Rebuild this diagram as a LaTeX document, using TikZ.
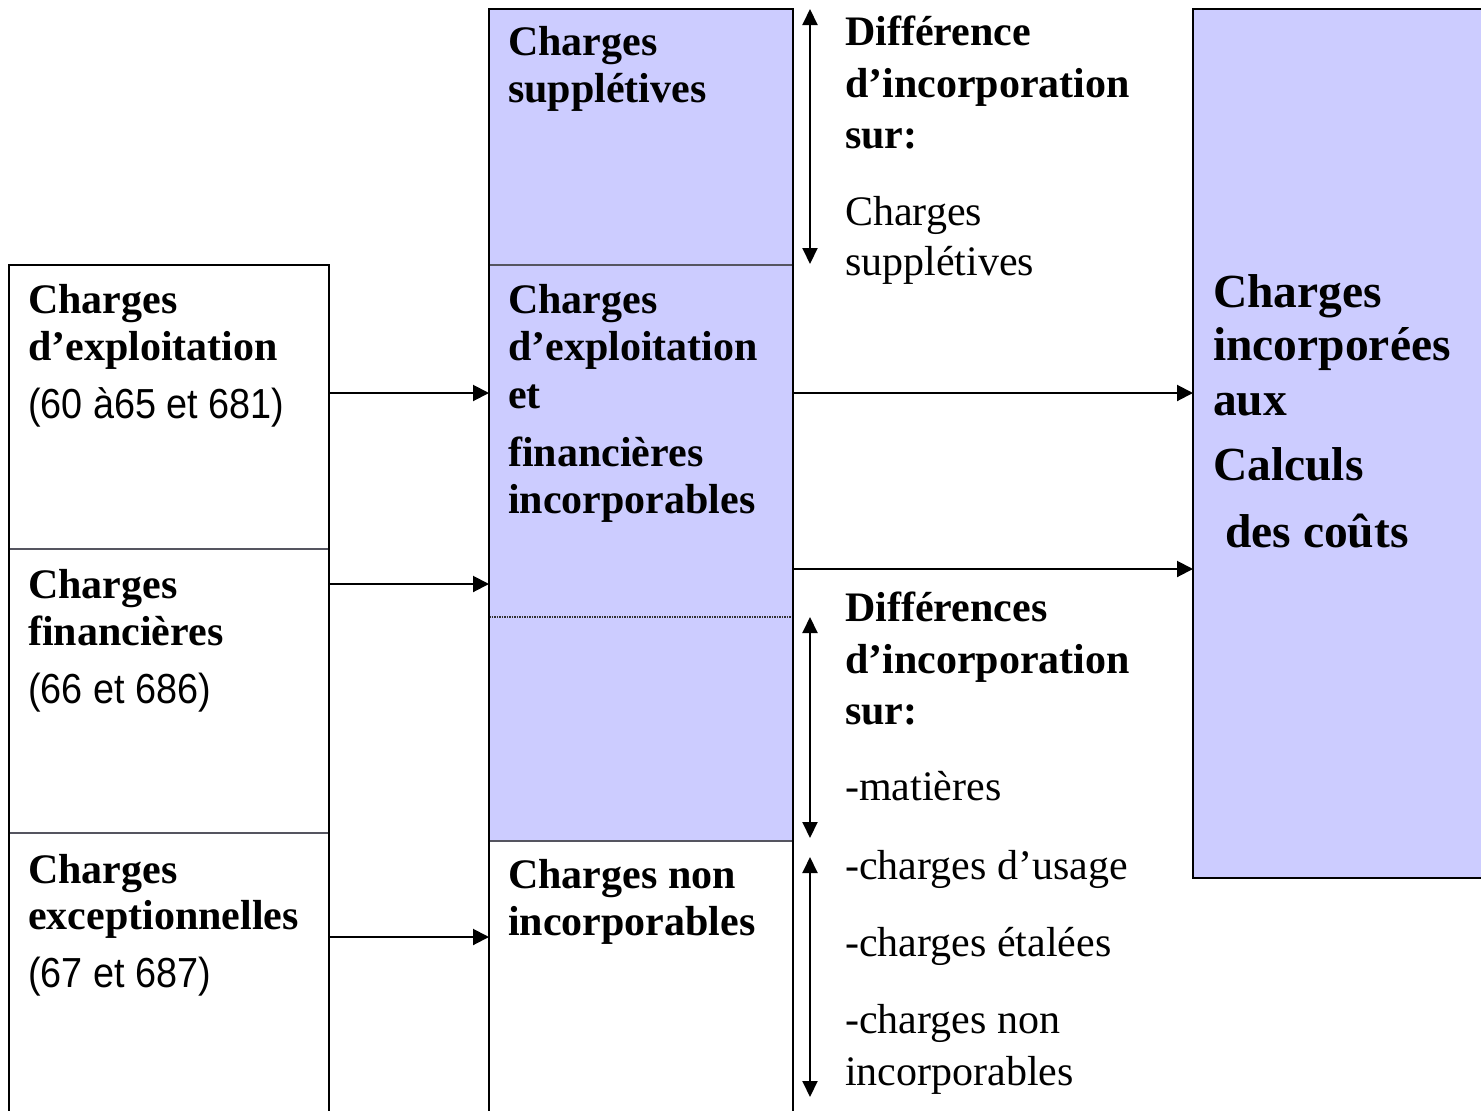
\documentclass[tikz,border=0pt]{standalone}
\usepackage{fontspec}
\setmainfont{Liberation Serif}
\newfontfamily\numfont[FakeStretch=0.9]{Liberation Sans}
\usetikzlibrary{arrows.meta}
\definecolor{lav}{HTML}{CCCCFF}
\definecolor{divgray}{HTML}{555560}
\tikzset{
 txt/.style={anchor=base west, inner sep=0pt, font=\fontsize{42}{50}\selectfont},
 btxt/.style={anchor=base west, inner sep=0pt, font=\fontsize{42}{50}\selectfont\bfseries},
 ntxt/.style={anchor=base west, inner sep=0pt, font=\fontsize{42}{50}\selectfont\numfont},
 bigtxt/.style={anchor=base west, inner sep=0pt, font=\fontsize{47.5}{56}\selectfont\bfseries},
 cell/.style={anchor=north west, inner sep=0pt, outer sep=0pt},
 outer/.style={draw=black, line width=2pt},
 divider/.style={draw=divgray, line width=1.3pt},
 dotline/.style={draw=black!80, line width=1.3pt, dash pattern=on 1.5pt off 1pt},
 arr/.style={line width=2pt, -{Triangle[width=16pt,length=16pt]}},
 darr/.style={line width=2pt, {Triangle[width=15pt,length=16pt]}-{Triangle[width=15pt,length=16pt]}},
}
\begin{document}
\begin{tikzpicture}[x=1pt,y=-1pt]
\useasboundingbox (0,0) rectangle (1481,1111);
% left column
\node[cell, minimum width=320pt, minimum height=284pt] (L1) at (9,265) {};
\node[cell, minimum width=320pt, minimum height=284pt] (L2) at (9,549) {};
\node[cell, minimum width=320pt, minimum height=290pt] (L3) at (9,833) {};
\draw[divider] (L1.south west) -- (L1.south east);
\draw[divider] (L2.south west) -- (L2.south east);
\draw[outer] (L1.north west) rectangle (L3.south east);
% middle column
\node[cell, fill=lav, minimum width=304pt, minimum height=256pt] (M1) at (489,9) {};
\node[cell, fill=lav, minimum width=304pt, minimum height=352pt] (M2) at (489,265) {};
\node[cell, fill=lav, minimum width=304pt, minimum height=224pt] (M3) at (489,617) {};
\node[cell, minimum width=304pt, minimum height=290pt] (M4) at (489,841) {};
\draw[divider] (M1.south west) -- (M1.south east);
\draw[dotline] (M2.south west) -- (M2.south east);
\draw[divider] (M3.south west) -- (M3.south east);
\draw[outer] (M1.north west) rectangle (M4.south east);
% right box
\node[cell, fill=lav, outer, minimum width=310pt, minimum height=869pt] (R) at (1193,9) {};
% arrow levels
\coordinate (h1) at (0,393);
\coordinate (h2) at (0,584);
\coordinate (h3) at (0,937);
\coordinate (h4) at (0,569);
\draw[arr] (L1.east |- h1) -- (M2.west |- h1);
\draw[arr] (L2.east |- h2) -- (M2.west |- h2);
\draw[arr] (L3.east |- h3) -- (M4.west |- h3);
\draw[arr] (M2.east |- h1) -- (R.west |- h1);
\draw[arr] (M2.east |- h4) -- (R.west |- h4);
% double arrows
\coordinate (v1a) at (810,9);
\coordinate (v1b) at (810,264);
\coordinate (v2a) at (810,617);
\coordinate (v2b) at (810,838);
\coordinate (v3a) at (810,857);
\coordinate (v3b) at (810,1097);
\draw[darr] (v1a) -- (v1b);
\draw[darr] (v2a) -- (v2b);
\draw[darr] (v3a) -- (v3b);
% left texts
\node[btxt] (t1) at (28,313) {Charges};
\node[btxt] (t2) at (28,360) {d’exploitation};
\node[ntxt] (t3) at (28,418) {(60 à65 et 681)};
\node[btxt] (t4) at (28,598) {Charges};
\node[btxt] (t5) at (28,645) {financières};
\node[ntxt] (t6) at (28,703) {(66 et 686)};
\node[btxt] (t7) at (28,883) {Charges};
\node[btxt] (t8) at (28,929) {exceptionnelles};
\node[ntxt] (t9) at (28,987) {(67 et 687)};
% middle texts
\node[btxt] (m1) at (508,55) {Charges};
\node[btxt] (m2) at (508,102) {supplétives};
\node[btxt] (m3) at (508,313) {Charges};
\node[btxt] (m4) at (508,360) {d’exploitation};
\node[btxt] (m5) at (508,408) {et};
\node[btxt] (m6) at (508,466) {financières};
\node[btxt] (m7) at (508,513) {incorporables};
\node[btxt] (m8) at (508,888) {Charges non};
\node[btxt] (m9) at (508,935) {incorporables};
% right column texts
\node[btxt] (r1) at (845,45) {Différence};
\node[btxt] (r2) at (845,97) {d’incorporation};
\node[btxt] (r3) at (845,148) {sur:};
\node[txt] (r4) at (845,225) {Charges};
\node[txt] (r5) at (845,275) {supplétives};
\node[btxt] (r6) at (845,621) {Différences};
\node[btxt] (r7) at (845,673) {d’incorporation};
\node[btxt] (r8) at (845,724) {sur:};
\node[txt] (r9) at (845,800) {-matières};
\node[txt] (r10) at (845,879) {-charges d’usage};
\node[txt] (r11) at (845,956) {-charges étalées};
\node[txt] (r12) at (845,1033) {-charges non};
\node[txt] (r13) at (845,1085) {incorporables};
% right box texts
\node[bigtxt] (b1) at (1213,307) {Charges};
\node[bigtxt] (b2) at (1213,360) {incorporées};
\node[bigtxt] (b3) at (1213,415) {aux};
\node[bigtxt] (b4) at (1213,480) {Calculs};
\node[bigtxt] (b5) at (1225,547) {des coûts};
\end{tikzpicture}
\end{document}
